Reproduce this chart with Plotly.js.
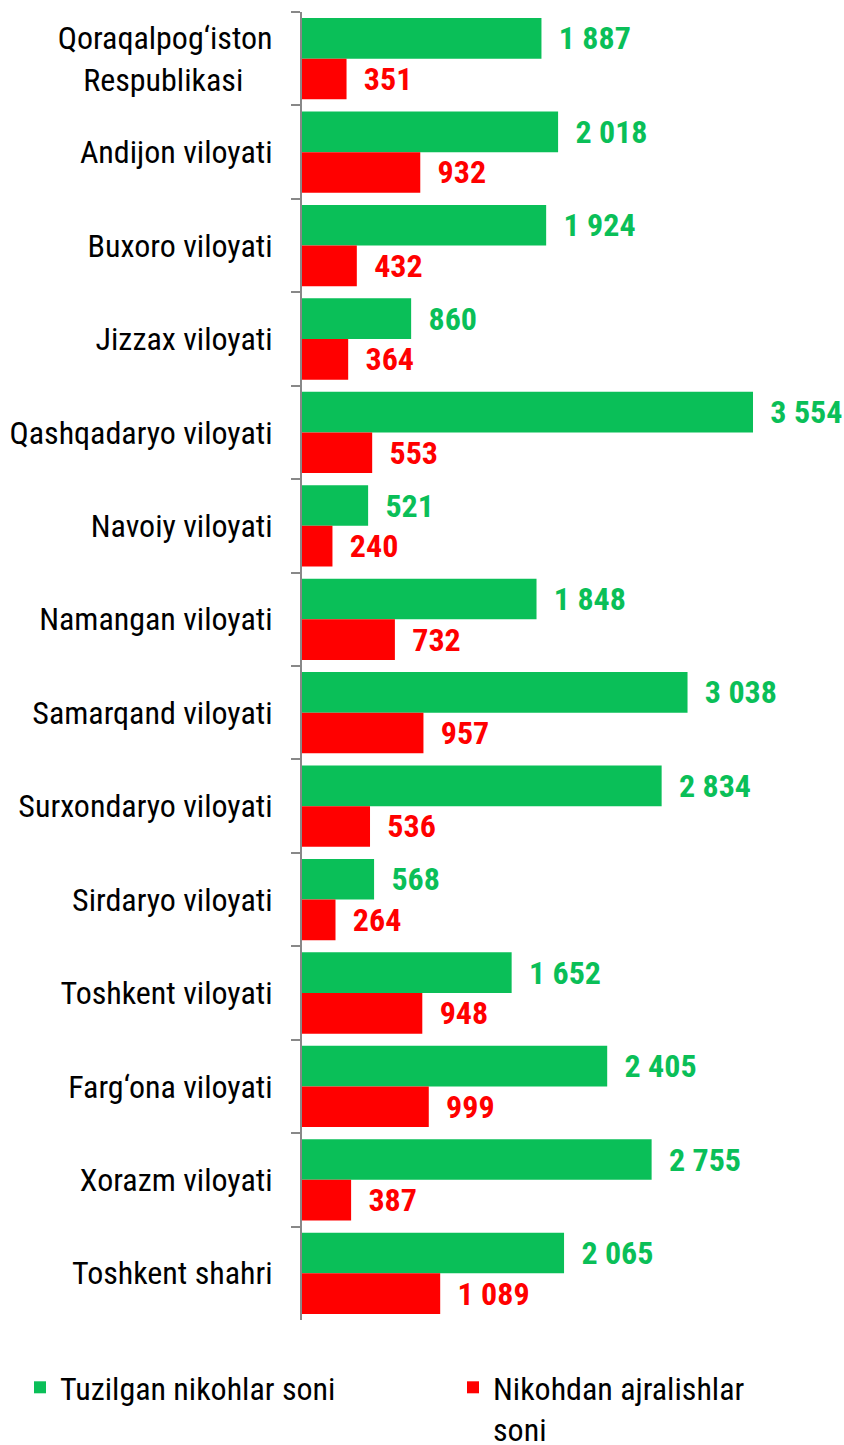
<!DOCTYPE html>
<html><head><meta charset="utf-8">
<script src="https://cdn.plot.ly/plotly-3.0.1.min.js"></script>
<style>body{margin:0;background:#fff}#c{width:844px;height:1445px}</style>
</head><body><div id="c"></div>
<script>
const categories = [
  "Qoraqalpog‘iston<br>Respublikasi\u00a0\u00a0\u00a0\u00a0",
  "Andijon viloyati","Buxoro viloyati","Jizzax viloyati","Qashqadaryo viloyati",
  "Navoiy viloyati","Namangan viloyati","Samarqand viloyati","Surxondaryo viloyati",
  "Sirdaryo viloyati","Toshkent viloyati","Farg‘ona viloyati","Xorazm viloyati","Toshkent shahri"
];
const marriages = [1887,2018,1924,860,3554,521,1848,3038,2834,568,1652,2405,2755,2065];
const divorces  = [351,932,432,364,553,240,732,957,536,264,948,999,387,1089];
const seriesNames = ["Tuzilgan nikohlar soni","Nikohdan ajralishlar<br>soni"];

const fmt = v => "\u2002" + String(v).replace(/\B(?=(\d{3})+(?!\d))/g, " ");
const FONT = "Roboto Condensed, Roboto, Arial Narrow, sans-serif";

const traces = [
  {type:"bar", orientation:"h", y:categories, x:marriages, name:seriesNames[0],
   marker:{color:"#0ABF58"}, text:marriages.map(fmt), textposition:"outside",
   textfont:{family:FONT, size:32, color:"#0ABF58", weight:"bold"}, cliponaxis:false,
   constraintext:"none", hoverinfo:"x", legend:"legend"},
  {type:"bar", orientation:"h", y:categories, x:divorces, name:seriesNames[1],
   marker:{color:"#FF0000"}, text:divorces.map(fmt), textposition:"outside",
   textfont:{family:FONT, size:32, color:"#FF0000", weight:"bold"}, cliponaxis:false,
   constraintext:"none", hoverinfo:"x", legend:"legend2"}
];

const W = 844, H = 1445;
const legBase = {yanchor:"top", xanchor:"left", valign:"top", bgcolor:"rgba(0,0,0,0)",
  font:{family:FONT, size:32, color:"#000"}, itemwidth:30, tracegroupgap:0};

const layout = {
  width:W, height:H,
  margin:{l:0, r:0, t:0, b:0, autoexpand:false},
  paper_bgcolor:"#fff", plot_bgcolor:"#fff",
  font:{family:FONT, size:32, color:"#000"},
  barmode:"group", bargap:0.13, bargroupgap:0,
  showlegend:true,
  legend:Object.assign({}, legBase, {x:20/W, y:1-1360/H}),
  legend2:Object.assign({}, legBase, {x:453/W, y:1-1360/H}),
  xaxis:{domain:[302/W, 1], range:[0,4271], visible:false, fixedrange:true},
  yaxis:{domain:[(H-1320)/H, (H-12)/H], autorange:"reversed", type:"category",
         showline:true, linecolor:"#888", linewidth:2,
         ticks:"outside", tickson:"boundaries", ticklen:9, tickcolor:"#888", tickwidth:2,
         showgrid:false, zeroline:false, ticklabelstandoff:21, automargin:false,
         tickfont:{family:FONT, size:32, color:"#000"}}
};
Plotly.newPlot("c", traces, layout, {displayModeBar:false, staticPlot:true});
</script></body></html>
